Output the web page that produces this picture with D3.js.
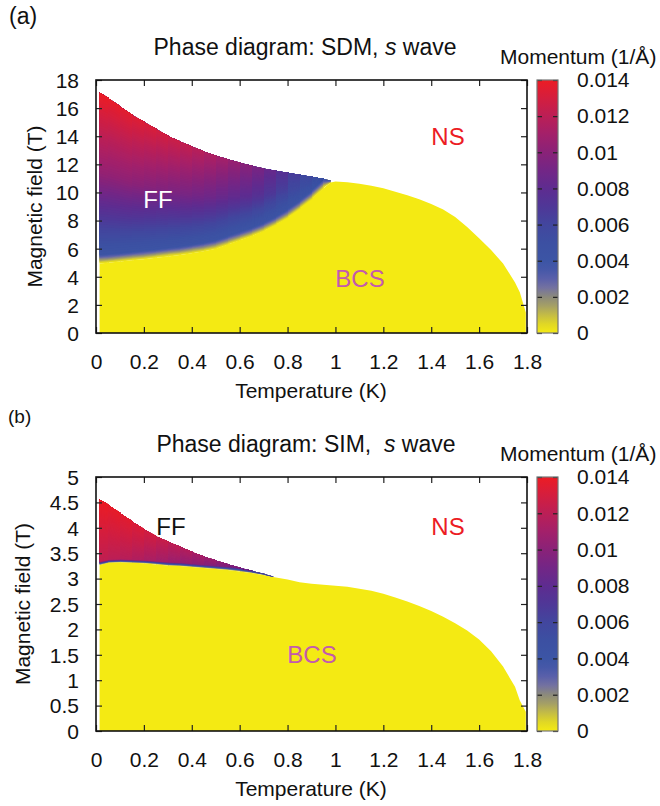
<!DOCTYPE html>
<html>
<head>
<meta charset="utf-8">
<script src="https://cdn.jsdelivr.net/npm/d3@7"></script>
<style>
  body { margin: 0; background: #fff; }
  text { font-family: "Liberation Sans", Arial, Helvetica, sans-serif; fill: #111; }
</style>
</head>
<body>
<script>
// colour palette: momentum (1/Å) -> colour
const qStops  = [0, 0.0005, 0.001, 0.0015, 0.002, 0.0025, 0.003, 0.0035, 0.004, 0.005, 0.006, 0.007, 0.008, 0.009, 0.010, 0.011, 0.012, 0.013, 0.014];
const qColors = ["#f4ea13", "#e0d725", "#c4bc45", "#a5a065", "#8c8a7c", "#7472a0", "#5a60aa", "#4658a8", "#3c55a5", "#3c50a2",
                 "#42469e", "#4f3797", "#5e2c90", "#732686", "#8a2278", "#a3206a", "#bb1f56", "#d41e3e", "#ec1c24"];

const xTicks = [0, 0.2, 0.4, 0.6, 0.8, 1, 1.2, 1.4, 1.6, 1.8];
const xTickLabels = ["0", "0.2", "0.4", "0.6", "0.8", "1", "1.2", "1.4", "1.6", "1.8"];
const cbTicks = [0, 0.002, 0.004, 0.006, 0.008, 0.010, 0.012, 0.014];
const cbTickLabels = ["0", "0.002", "0.004", "0.006", "0.008", "0.01", "0.012", "0.014"];

// panel (a): SDM
const tempA = [0.015, 0.05, 0.1, 0.15, 0.2, 0.25, 0.3, 0.35, 0.4, 0.45, 0.5, 0.55, 0.6, 0.65, 0.7, 0.75, 0.8, 0.85, 0.9, 0.95, 0.98,
               1.0, 1.05, 1.1, 1.15, 1.2, 1.25, 1.3, 1.35, 1.4, 1.45, 1.5, 1.55, 1.6, 1.65, 1.7, 1.75, 1.77, 1.795];
// top of the BCS (zero momentum) region
const bcsTopA = [4.95, 5.0, 5.08, 5.17, 5.25, 5.35, 5.45, 5.55, 5.68, 5.82, 6.0, 6.3, 6.6, 6.9, 7.25, 7.7, 8.22, 8.85, 9.55, 10.3, 10.7,
                 10.78, 10.72, 10.62, 10.48, 10.3, 10.05, 9.8, 9.52, 9.17, 8.78, 8.25, 7.55, 6.75, 5.9, 4.95, 3.6, 2.9, 1.45];
// FF region (first temps of tempA)
const ffTopA = [17.1, 16.7, 16.1, 15.5, 15.0, 14.5, 14.0, 13.6, 13.25, 12.9, 12.6, 12.35, 12.1, 11.88, 11.68, 11.52, 11.38, 11.24, 11.1, 10.95, 10.85];
const qLowA  = [0.0043, 0.0043, 0.0043, 0.0043, 0.0043, 0.0043, 0.0043, 0.0043, 0.0043, 0.0043, 0.0043, 0.0043, 0.0043, 0.0043, 0.0043, 0.0043, 0.0043, 0.0043, 0.0042, 0.0042, 0.0042];
const qMidA  = [0.0104, 0.0103, 0.0102, 0.0101, 0.0099, 0.0097, 0.0095, 0.0093, 0.0091, 0.0089, 0.0086, 0.0083, 0.0080, 0.0077, 0.0072, 0.0066, 0.0060, 0.0054, 0.0050, 0.0046, 0.0044];
const qTopA  = [0.0140, 0.0139, 0.0137, 0.0135, 0.0133, 0.0131, 0.0128, 0.0125, 0.0121, 0.0117, 0.0113, 0.0108, 0.0103, 0.0097, 0.0089, 0.0080, 0.0070, 0.0061, 0.0054, 0.0048, 0.0045];
const yTicksA = [0, 2, 4, 6, 8, 10, 12, 14, 16, 18];

// panel (b): SIM
const tempB = [0.015, 0.05, 0.1, 0.15, 0.2, 0.25, 0.3, 0.35, 0.4, 0.45, 0.5, 0.55, 0.6, 0.65, 0.7, 0.74,
               0.8, 0.85, 0.9, 0.95, 1.0, 1.05, 1.1, 1.15, 1.2, 1.25, 1.3, 1.35, 1.4, 1.45, 1.5, 1.55, 1.6, 1.65, 1.7, 1.75, 1.77, 1.795];
const bcsTopB = [3.27, 3.31, 3.32, 3.31, 3.30, 3.28, 3.26, 3.25, 3.23, 3.21, 3.19, 3.17, 3.14, 3.11, 3.07, 3.03,
                 2.98, 2.93, 2.90, 2.88, 2.86, 2.84, 2.80, 2.76, 2.70, 2.63, 2.55, 2.46, 2.36, 2.25, 2.12, 1.98, 1.80, 1.57, 1.27, 0.87, 0.6, 0.38];
const ffTopB = [4.55, 4.45, 4.28, 4.12, 3.96, 3.83, 3.72, 3.62, 3.52, 3.43, 3.35, 3.28, 3.21, 3.15, 3.09, 3.04];
const qLowB  = [0.0122, 0.0121, 0.0119, 0.0117, 0.0114, 0.0111, 0.0108, 0.0105, 0.0102, 0.0099, 0.0096, 0.0093, 0.0090, 0.0086, 0.0082, 0.0079];
const qMidB  = [0.0131, 0.0130, 0.0128, 0.0126, 0.0123, 0.0119, 0.0116, 0.0112, 0.0109, 0.0105, 0.0101, 0.0097, 0.0093, 0.0088, 0.0083, 0.0080];
const qTopB  = [0.0140, 0.0139, 0.0137, 0.0134, 0.0131, 0.0127, 0.0123, 0.0119, 0.0115, 0.0110, 0.0105, 0.0100, 0.0095, 0.0090, 0.0084, 0.0080];
const yTicksB = [0, 0.5, 1, 1.5, 2, 2.5, 3, 3.5, 4, 4.5, 5];

const color = d3.scaleLinear().domain(qStops).range(qColors).interpolate(d3.interpolateRgb).clamp(true);

const svg = d3.select("body").append("svg")
  .attr("width", 660)
  .attr("height", 806);

const x = d3.scaleLinear().domain([0, 1.8]).range([96, 527]);

function drawPanel(p) {
  const y = d3.scaleLinear().domain([0, p.yMax]).range([p.bottom, p.top]);
  const g = svg.append("g");

  g.append("clipPath").attr("id", "clip" + p.id)
    .append("rect").attr("x", 96).attr("y", p.top).attr("width", 431).attr("height", p.bottom - p.top);
  const plot = g.append("g").attr("clip-path", `url(#clip${p.id})`);

  // BCS region (zero momentum)
  const area = d3.area()
    .x((d, i) => x(p.temp[i]))
    .y0(y(0))
    .y1(d => y(d));
  plot.append("path")
    .datum(p.bcsTop)
    .attr("d", area)
    .attr("fill", color(0));

  // FF region: momentum goes from 0 at the BCS edge up to qTop at the FF upper edge
  function levels(i) {
    const base = p.bcsTop[i], top = p.ffTop[i];
    const bEnd = Math.min(base + p.blend, top);
    const mEnd = (bEnd + top) / 2;
    const segs = [[base, 0, bEnd, p.qLow[i], 12], [bEnd, p.qLow[i], mEnd, p.qMid[i], 30], [mEnd, p.qMid[i], top, p.qTop[i], 30]];
    const out = [];
    segs.forEach(([h0, q0, h1, q1, n], s) => {
      for (let k = (s === 0 ? 0 : 1); k <= n; k++) {
        const f = k / n;
        out.push({ h: h0 + f * (h1 - h0), q: q0 + f * (q1 - q0) });
      }
    });
    return out;
  }
  // each band is painted from its lower edge up to the FF top, the next band covers it;
  // column edges sit on whole pixels so no blended seams show
  const cells = [];
  const n = p.ffTop.length;
  for (let i = 0; i < n - 1; i++) {
    const L0 = levels(i), L1 = levels(i + 1);
    const last = L0.length - 1;
    const xa = i === 0 ? x(p.temp[i]) : Math.round(x(p.temp[i]));
    const xb = i < n - 2 ? Math.round(x(p.temp[i + 1])) + 1 : x(p.temp[i + 1]);
    for (let j = 0; j < last; j++) {
      cells.push({
        pts: [[xa, y(L0[j].h)], [xb, y(L1[j].h)], [xb, y(L1[last].h)], [xa, y(L0[last].h)]],
        q: (L0[j].q + L1[j].q + L0[j + 1].q + L1[j + 1].q) / 4
      });
    }
  }
  plot.selectAll("polygon.cell")
    .data(cells)
    .join("polygon")
    .attr("class", "cell")
    .attr("points", d => d.pts.map(([px, py]) => px.toFixed(2) + "," + py.toFixed(2)).join(" "))
    .attr("fill", d => color(d.q));

  // axes, ticks inward on all four sides
  const ax = (a) => a.tickSizeOuter(0).tickSizeInner(-6);
  const bottomAxis = g.append("g").attr("transform", `translate(0,${p.bottom})`)
    .call(ax(d3.axisBottom(x).tickValues(xTicks).tickFormat((d, i) => xTickLabels[i]).tickPadding(21)));
  g.append("g").attr("transform", `translate(0,${p.top})`)
    .call(ax(d3.axisTop(x).tickValues(xTicks).tickFormat("")));
  const leftAxis = g.append("g").attr("transform", "translate(96,0)")
    .call(ax(d3.axisLeft(y).tickValues(p.yTicks).tickFormat(d => String(d)).tickPadding(17)));
  g.append("g").attr("transform", "translate(527,0)")
    .call(ax(d3.axisRight(y).tickValues(p.yTicks).tickFormat("")));
  g.selectAll(".domain").remove();
  g.selectAll(".tick text").style("font-size", "21px").attr("fill", "#111");
  bottomAxis.selectAll(".tick text").attr("dy", "0.71em");
  leftAxis.selectAll(".tick text").attr("dy", "0.35em");

  g.append("rect")
    .attr("x", 96).attr("y", p.top)
    .attr("width", 431).attr("height", p.bottom - p.top)
    .attr("fill", "none").attr("stroke", "#111").attr("stroke-width", 1.6);

  // colour bar
  const cb = d3.scaleLinear().domain([0, 0.014]).range([p.bottom, p.top]);
  const gradId = "grad" + p.id;
  const grad = g.append("defs").append("linearGradient")
    .attr("id", gradId).attr("x1", 0).attr("y1", 1).attr("x2", 0).attr("y2", 0);
  grad.selectAll("stop").data(qStops).join("stop")
    .attr("offset", d => d / 0.014)
    .attr("stop-color", (d, i) => qColors[i]);
  g.append("rect")
    .attr("x", 537).attr("y", p.top)
    .attr("width", 21).attr("height", p.bottom - p.top)
    .attr("fill", `url(#${gradId})`);
  const cbL = g.append("g").attr("transform", "translate(537,0)")
    .call(d3.axisRight(cb).tickValues(cbTicks).tickSizeOuter(0).tickSizeInner(5).tickFormat(""));
  const cbR = g.append("g").attr("transform", "translate(558,0)")
    .call(d3.axisLeft(cb).tickValues(cbTicks).tickSizeOuter(0).tickSizeInner(5).tickFormat(""));
  cbL.select(".domain").remove();
  cbR.select(".domain").remove();
  g.selectAll(".tick line").attr("stroke", "#222").attr("stroke-width", 1.2);
  g.append("rect")
    .attr("x", 537).attr("y", p.top)
    .attr("width", 21).attr("height", p.bottom - p.top)
    .attr("fill", "none").attr("stroke", "#777").attr("stroke-width", 1.2);
  g.selectAll("text.cblab")
    .data(cbTicks)
    .join("text")
    .attr("class", "cblab")
    .attr("x", 577)
    .attr("y", d => cb(d))
    .attr("dy", "0.35em")
    .style("font-size", "21px")
    .text((d, i) => cbTickLabels[i]);
  g.append("text")
    .attr("x", 500).attr("y", p.top - 16)
    .style("font-size", "21px")
    .text("Momentum (1/Å)");

  // titles and axis labels
  const title = g.append("text")
    .attr("x", p.titleX).attr("y", p.top - 25)
    .attr("text-anchor", "middle")
    .style("font-size", "23px")
    .style("white-space", "pre");
  title.append("tspan").text(p.titleText);
  title.append("tspan").style("font-style", "italic").text("s");
  title.append("tspan").text(" wave");

  g.append("text")
    .attr("x", 311).attr("y", p.bottom + 65)
    .attr("text-anchor", "middle")
    .style("font-size", "21px")
    .text("Temperature (K)");
  g.append("text")
    .attr("transform", `translate(${p.ylabX},${(p.top + p.bottom) / 2}) rotate(-90)`)
    .attr("text-anchor", "middle")
    .style("font-size", "21px")
    .text("Magnetic field (T)");

  g.append("text")
    .attr("x", p.tagX).attr("y", p.tagY)
    .style("font-size", p.tagSize)
    .text(p.tag);

  // phase labels
  p.labels.forEach(l => {
    g.append("text")
      .attr("x", l.x).attr("y", y(l.h))
      .attr("text-anchor", "middle")
      .style("font-size", "24px")
      .style("fill", l.c)
      .text(l.t);
  });
}

drawPanel({
  id: "a", top: 80, bottom: 333, yMax: 18, yTicks: yTicksA,
  temp: tempA, bcsTop: bcsTopA, ffTop: ffTopA, qLow: qLowA, qMid: qMidA, qTop: qTopA, blend: 0.65,
  titleX: 305, titleText: "Phase diagram: SDM, ", ylabX: 42,
  tag: "(a)", tagX: 9, tagY: 24, tagSize: "23px",
  labels: [
    { t: "FF", h: 8.9, x: 158, c: "#ffffff" },
    { t: "NS", h: 13.4, x: 448, c: "#ec1c24" },
    { t: "BCS", h: 3.27, x: 360, c: "#c35aad" }
  ]
});

drawPanel({
  id: "b", top: 477, bottom: 731, yMax: 5, yTicks: yTicksB,
  temp: tempB, bcsTop: bcsTopB, ffTop: ffTopB, qLow: qLowB, qMid: qMidB, qTop: qTopB, blend: 0.06,
  titleX: 306, titleText: "Phase diagram: SIM,  ", ylabX: 30,
  tag: "(b)", tagX: 8, tagY: 423, tagSize: "19px",
  labels: [
    { t: "FF", h: 3.86, x: 171, c: "#111111" },
    { t: "NS", h: 3.86, x: 448, c: "#ec1c24" },
    { t: "BCS", h: 1.34, x: 312, c: "#c35aad" }
  ]
});
</script>
</body>
</html>
